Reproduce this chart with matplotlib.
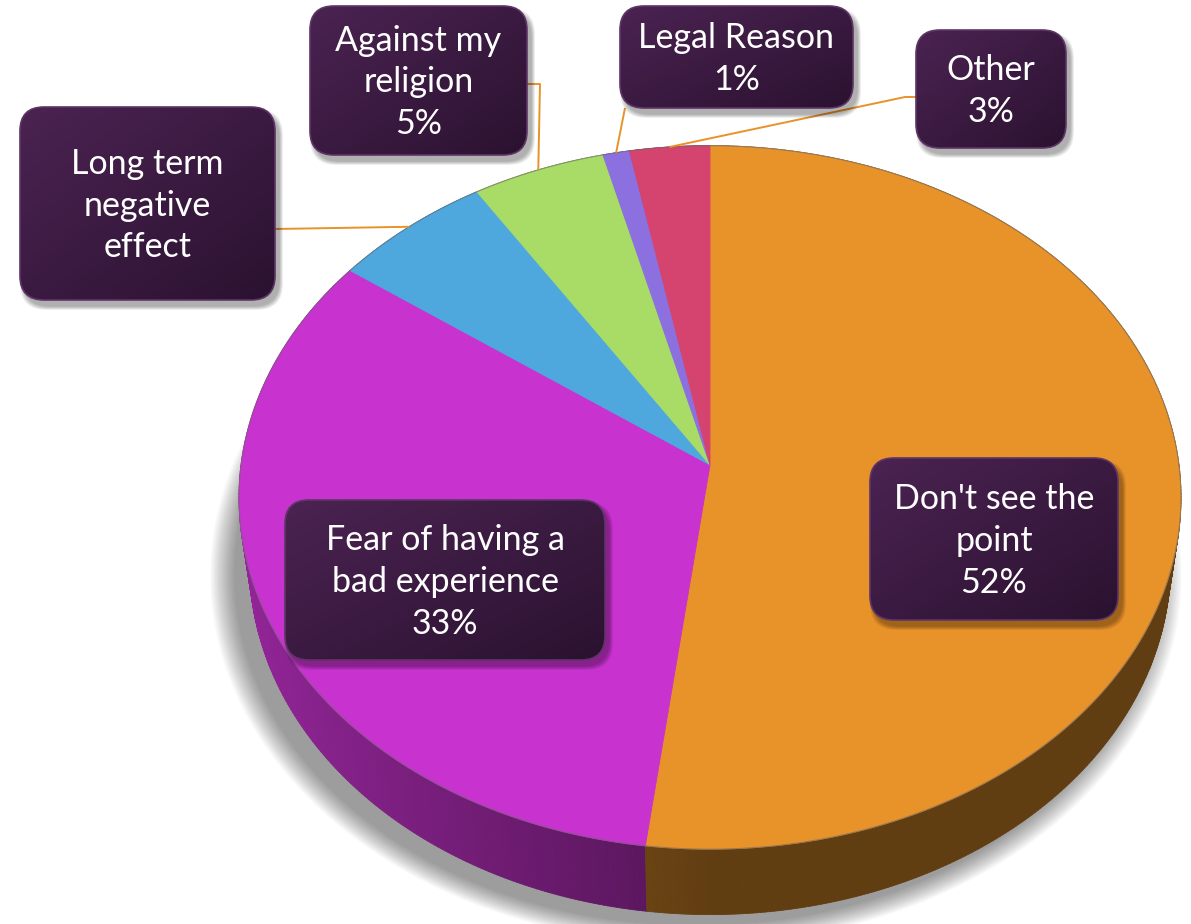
import numpy as np
import matplotlib
matplotlib.use("Agg")
import matplotlib.pyplot as plt
from matplotlib.patches import Polygon, FancyBboxPatch
from matplotlib.collections import PolyCollection
import matplotlib.colors as mcolors
from matplotlib import font_manager

# ---------------- data ----------------
categories = ["Don't see the point", "Fear of having a bad experience",
              "Long term negative effect", "Against my religion",
              "Legal Reason", "Other"]
values = [52, 33, 6, 5, 1, 3]
box_texts = ["Don't see the\npoint\n52%", "Fear of having a\nbad experience\n33%",
             "Long term\nnegative\neffect", "Against my\nreligion\n5%",
             "Legal Reason\n1%", "Other\n3%"]
colors = ['#E8922A', '#C832CF', '#4EA8DE', '#A8DC66', '#8C70E0', '#D4446E']

# label box layout (pixel coords: x0, y0, x1, y1)
boxes = [(870, 458, 1118, 620), (285, 500, 605, 660), (20, 107, 275, 300),
         (310, 6, 527, 155), (620, 6, 853, 108), (916, 30, 1066, 148)]
# leader line anchors on box (None = no leader)
anchors = [None, None, [(275, 229)], [(527, 84), (540, 84)],
           [(625, 108)], [(916, 97), (905, 97)]]

# ---------------- font ----------------
avail = {f.name for f in font_manager.fontManager.ttflist}
fam = [f for f in ['Lato', 'Open Sans', 'DejaVu Sans'] if f in avail]

# ---------------- projection ----------------
W, Hpx = 1191, 924
CX, CY = 710, 465
F = 3400.0
D = 7.25
E = np.arcsin(0.7437)
H = 0.222


def proj(theta, z=0.0):
    X = np.cos(theta)
    Y = np.sin(theta)
    v = Y * np.sin(E) + z * np.cos(E)
    w = D + Y * np.cos(E) - z * np.sin(E)
    return CX + F * X / w, CY - F * v / w


fig = plt.figure(figsize=(W / 100, Hpx / 100), dpi=100)
ax = fig.add_axes([0, 0, 1, 1])
ax.set_xlim(0, W)
ax.set_ylim(Hpx, 0)
ax.axis('off')

vals = np.array(values, dtype=float)
frac = vals / vals.sum()
edges = np.deg2rad(90 - np.concatenate([[0], np.cumsum(frac)]) * 360)

# ---------------- pie shadow ----------------
tt = np.linspace(0, 2 * np.pi, 400)
bx, by = proj(tt, -H)
tx, ty = proj(tt, 0)
scx, scy = bx.mean(), by.mean()
nlay = 16
for k in range(nlay):
    s = 1.0 + 0.055 * (k + 1) / nlay
    px = scx - 14 + (bx - scx) * s
    py = scy + 10 + (by - scy) * s
    ax.add_patch(Polygon(np.column_stack([px, py]), closed=True,
                         facecolor='#000000', edgecolor='none', alpha=0.028, zorder=1))

# ---------------- sides ----------------
quads = []
qcols = []
depth = []
for i in range(len(values)):
    a0, a1 = edges[i], edges[i + 1]
    n = max(2, int(abs(a0 - a1) / np.deg2rad(0.5)))
    th = np.linspace(a0, a1, n + 1)
    base = np.array(mcolors.to_rgb(colors[i]))
    for j in range(n):
        t0, t1 = th[j], th[j + 1]
        x0, y0 = proj(t0, 0)
        x1, y1 = proj(t1, 0)
        x2, y2 = proj(t1, -H)
        x3, y3 = proj(t0, -H)
        quads.append([(x0, y0), (x1, y1), (x2, y2), (x3, y3)])
        tm = 0.5 * (t0 + t1)
        fct = 0.42 + 0.32 * max(0.0, -np.cos(tm))
        qcols.append(np.clip(base * fct, 0, 1))
        depth.append(np.sin(tm))
order = np.argsort(depth)[::-1]
pc = PolyCollection([quads[k] for k in order], facecolors=[qcols[k] for k in order],
                    edgecolors=[qcols[k] for k in order], linewidths=0.6, zorder=2)
ax.add_collection(pc)

# ---------------- top faces ----------------
for i in range(len(values)):
    a0, a1 = edges[i], edges[i + 1]
    n = max(3, int(abs(a0 - a1) / np.deg2rad(0.5)))
    th = np.linspace(a0, a1, n + 1)
    xs, ys = proj(th, 0)
    pts = np.column_stack([np.concatenate([[CX], xs]), np.concatenate([[CY], ys])])
    ax.add_patch(Polygon(pts, closed=True, facecolor=colors[i], edgecolor=colors[i],
                         linewidth=0.6, zorder=3))
ax.plot(tx, ty, color='#6b6b6b', lw=0.8, alpha=0.6, zorder=4)

# ---------------- leader lines ----------------
for i in range(len(values)):
    if anchors[i] is None:
        continue
    mid = 0.5 * (edges[i] + edges[i + 1])
    ex, ey = proj(mid, 0)
    pts = list(anchors[i]) + [(ex, ey)]
    ax.plot([p[0] for p in pts], [p[1] for p in pts], color='#E8922A', lw=1.4,
            zorder=5, solid_capstyle='butt')

# ---------------- label boxes ----------------
c_tl = np.array(mcolors.to_rgb('#4B2352'))
c_br = np.array(mcolors.to_rgb('#2B1230'))
for i, (x0, y0, x1, y1) in enumerate(boxes):
    w, h = x1 - x0, y1 - y0
    # soft shadow
    for k in range(8):
        g = 1 + k * 1.0
        sh = FancyBboxPatch((x0 + 4 - g / 2, y0 + 6 - g / 2), w + g, h + g,
                            boxstyle="round,pad=0,rounding_size=26",
                            facecolor='black', edgecolor='none', alpha=0.045, zorder=6)
        ax.add_patch(sh)
    patch = FancyBboxPatch((x0, y0), w, h, boxstyle="round,pad=0,rounding_size=24",
                           facecolor='none', edgecolor='#5E3566', linewidth=1.2, zorder=8)
    ax.add_patch(patch)
    u = np.linspace(0, 1, 64)
    U, V = np.meshgrid(u, u)
    T = (U + V) / 2
    img = c_tl[None, None, :] * (1 - T[..., None]) + c_br[None, None, :] * T[..., None]
    im = ax.imshow(img, extent=(x0, x1, y1, y0), origin='upper', aspect='auto',
                   zorder=7, interpolation='bilinear')
    clip = FancyBboxPatch((x0, y0), w, h, boxstyle="round,pad=0,rounding_size=24",
                          transform=ax.transData, facecolor='none', edgecolor='none')
    ax.add_patch(clip)
    im.set_clip_path(clip)
    ax.text((x0 + x1) / 2, (y0 + y1) / 2 + 2, box_texts[i], color='white',
            fontsize=24.5, family=fam, ha='center', va='center',
            linespacing=1.38, zorder=9)

ax.set_xlim(0, W)
ax.set_ylim(Hpx, 0)
fig.savefig('out.png', dpi=100, facecolor='white')
